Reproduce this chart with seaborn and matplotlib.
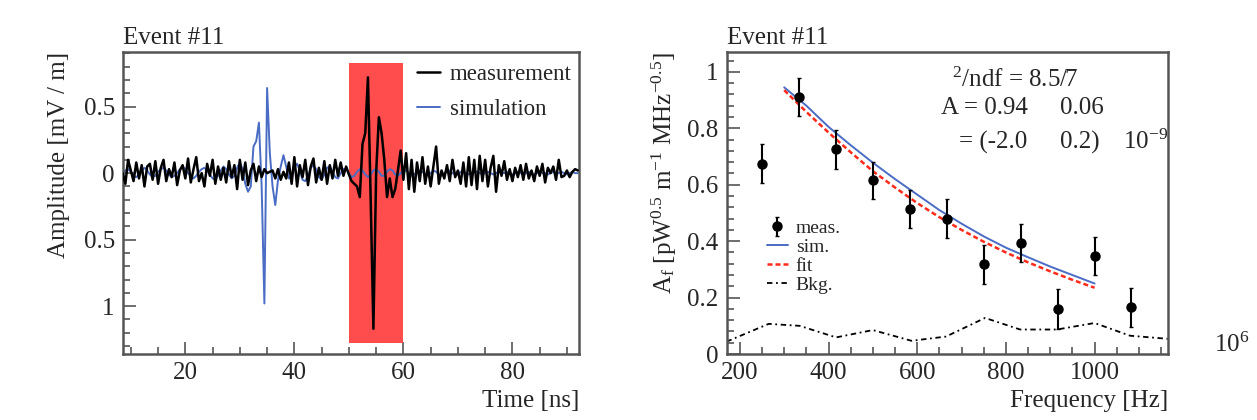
import numpy as np
import pandas as pd
import matplotlib
matplotlib.use('Agg')
import matplotlib.pyplot as plt
from matplotlib.ticker import MultipleLocator
import seaborn as sns

sns.set_style('ticks')
plt.rcParams['font.family'] = ['Liberation Serif', 'DejaVu Serif']
plt.rcParams['mathtext.fontset'] = 'custom'
plt.rcParams['mathtext.rm'] = 'Liberation Serif'
plt.rcParams['mathtext.it'] = 'Liberation Serif:italic'

# ---- left panel: time traces (0.5 ns sampling from 8.5 ns) ----
t_start, t_step = 8.5, 0.5
measurement = [
    0.0, -0.08, 0.1, 0.02, -0.06, 0.08, -0.04, 0.06, -0.1, 0.05,
    0.07, -0.05, 0.09, -0.08, 0.04, 0.1, -0.06, 0.03, -0.03, 0.08,
    -0.09, 0.02, 0.06, -0.04, 0.11, -0.07, 0.03, 0.12, -0.06, 0.0,
    -0.1, 0.07, -0.02, 0.1, -0.08, 0.05, -0.05, 0.04, -0.07, 0.09,
    -0.03, 0.06, -0.12, 0.1, -0.05, 0.08, -0.09, 0.02, 0.07, -0.06,
    0.05, -0.03, 0.03, 0.0, 0.01, 0.02, -0.04, 0.03, -0.05, 0.01,
    -0.04, 0.08, -0.08, 0.12, -0.1, 0.06, -0.03, 0.1, -0.09, 0.05,
    0.11, -0.07, 0.04, -0.05, 0.09, -0.08, 0.06, -0.04, 0.1, -0.02,
    0.08, -0.02, 0.05, -0.01, -0.06, -0.08, -0.1, -0.18, 0.22, 0.3,
    0.72, -0.2, -1.17, 0.0, 0.42, 0.3, 0.1, -0.18, -0.04, -0.18,
    -0.12, 0.02, 0.17, -0.05, 0.15, -0.12, 0.1, -0.14, 0.08, -0.06,
    0.12, -0.08, 0.05, -0.1, 0.05, 0.2, -0.08, 0.02, -0.04, 0.06,
    -0.06, 0.1, -0.03, 0.02, -0.08, 0.08, -0.1, 0.12, -0.09, 0.1,
    -0.12, 0.13, -0.06, 0.1, -0.1, 0.04, 0.13, -0.14, 0.06, -0.02,
    0.09, -0.05, 0.03, -0.06, 0.04, -0.03, 0.06, -0.05, 0.07, -0.04,
    0.02, -0.06, 0.05, -0.02, 0.07, -0.07, 0.04, 0.0, 0.05, -0.05,
    0.1, -0.03, -0.02, 0.02, -0.03, 0.01, 0.03, 0.02,
]
simulation = [
    0.0, 0.02, 0.03, 0.01, -0.02, -0.03, -0.01, 0.02, 0.04, 0.02,
    -0.01, -0.03, -0.02, 0.01, 0.03, 0.04, 0.02, -0.01, -0.03, -0.02,
    0.0, 0.03, 0.05, 0.03, 0.0, -0.02, -0.04, -0.02, 0.01, 0.03,
    0.04, 0.02, -0.01, -0.04, -0.05, -0.02, 0.02, 0.05, 0.03, -0.01,
    -0.04, -0.02, 0.04, 0.08, 0.03, -0.08, -0.14, -0.1, 0.2, 0.24,
    0.38, -0.1, -0.98, 0.64, 0.15, -0.1, -0.24, -0.05, 0.05, 0.135,
    0.05, -0.04, -0.02, 0.05, 0.07, 0.02, -0.05, -0.06, -0.02, 0.04,
    0.06, 0.03, -0.03, -0.05, -0.01, 0.04, 0.05, 0.01, -0.03, -0.04,
    0.0, 0.03, 0.03, 0.0, -0.03, -0.02, 0.01, 0.03, 0.02, -0.01,
    -0.03, -0.01, 0.02, 0.03, 0.01, -0.02, -0.02, 0.01, 0.03, 0.02,
    -0.01, -0.02, 0.0, 0.02, 0.02, 0.0, -0.02, -0.01, 0.01, 0.02,
    0.01, -0.01, -0.02, 0.0, 0.02, 0.01, -0.01, -0.02, 0.0, 0.01,
    0.02, 0.0, -0.01, -0.01, 0.01, 0.01, 0.0, -0.01, 0.0, 0.01,
    0.01, 0.0, -0.01, 0.0, 0.01, 0.0, -0.01, 0.0, 0.01, 0.0,
    0.0, 0.01, 0.0, -0.01, 0.0, 0.01, 0.0, -0.01, 0.0, 0.01,
    0.0, -0.01, 0.0, 0.01, 0.0, 0.0, -0.01, 0.0, 0.01, 0.0,
    0.0, 0.01, 0.0, -0.01, 0.0, 0.01, 0.0, 0.0,
]
time_ns = t_start + t_step * np.arange(len(measurement))
window_ns = (50, 60)
window_amp = (-1.28, 0.83)
left_yticks = [-1, -0.5, 0, 0.5]
left_yticklabels = ['1', '0.5', '0', '0.5']

# ---- right panel: spectrum ----
freq_meas = [250, 333, 417, 500, 583, 667, 750, 833, 917, 1000, 1083]
amp_meas = [0.675, 0.91, 0.725, 0.615, 0.513, 0.48, 0.318, 0.394, 0.16, 0.347, 0.166]
amp_err = [0.068, 0.067, 0.068, 0.067, 0.067, 0.068, 0.068, 0.068, 0.07, 0.068, 0.069]
freq_curve = [300, 350, 400, 450, 500, 550, 600, 650, 700, 750, 800, 850, 900, 950, 1000]
amp_sim = [0.945, 0.88, 0.805, 0.74, 0.678, 0.62, 0.565, 0.51, 0.462, 0.417, 0.377, 0.343, 0.31, 0.28, 0.25]
amp_fit = [0.935, 0.858, 0.785, 0.715, 0.648, 0.59, 0.535, 0.485, 0.44, 0.398, 0.36, 0.325, 0.293, 0.263, 0.235]
freq_bkg = [170, 265, 335, 417, 500, 587, 665, 753, 832, 915, 1000, 1080, 1165]
amp_bkg = [0.044, 0.107, 0.1, 0.059, 0.085, 0.047, 0.062, 0.128, 0.087, 0.087, 0.11, 0.065, 0.054]

blue = '#4a6cc4'
red_fit = '#ff2a1a'
red_box = '#ff4c4c'
fs = 18

fig = plt.figure(figsize=(12.57, 4.2), dpi=100)
ax1 = fig.add_axes([0.098, 0.157, 0.363, 0.719])
ax2 = fig.add_axes([0.578, 0.157, 0.351, 0.719])

# left
trace = pd.DataFrame({'t': time_ns, 'meas': measurement, 'sim': simulation})
ax1.fill_between(window_ns, window_amp[0], window_amp[1], color=red_box, lw=0, zorder=1)
sns.lineplot(data=trace, x='t', y='meas', ax=ax1, color='black', lw=1.8,
             estimator=None, sort=False, label='measurement', zorder=3)
sns.lineplot(data=trace, x='t', y='sim', ax=ax1, color=blue, lw=1.4,
             estimator=None, sort=False, label='simulation', zorder=2)
ax1.set_xlim(8.6, 92.3)
ax1.set_ylim(-1.36, 0.91)
ax1.set_yticks(left_yticks)
ax1.set_yticklabels(left_yticklabels)
ax1.xaxis.set_major_locator(MultipleLocator(20))
ax1.xaxis.set_minor_locator(MultipleLocator(5))
ax1.yaxis.set_minor_locator(MultipleLocator(0.1))
ax1.set_xlabel('Time [ns]', loc='right', fontsize=fs, labelpad=4)
ax1.set_ylabel('Amplitude [mV / m]', loc='top', fontsize=fs, labelpad=10)
ax1.set_title('Event #11', loc='left', fontsize=fs, pad=6)
ax1.legend(loc='upper left', bbox_to_anchor=(0.645, 0.96), frameon=False,
           fontsize=16.5, handlelength=1.0, handletextpad=0.4, labelspacing=0.62,
           borderpad=0, borderaxespad=0)

# right
ax2.errorbar(freq_meas, amp_meas, yerr=amp_err, fmt='o', color='black', ms=6.5,
             elinewidth=1.5, capsize=1.5, label='meas.', zorder=4)
sns.lineplot(x=freq_curve, y=amp_sim, ax=ax2, color=blue, lw=1.4, label='sim.', zorder=3)
sns.lineplot(x=freq_curve, y=amp_fit, ax=ax2, color=red_fit, lw=1.8,
             linestyle=(0, (2, 1.2)), label='fit', zorder=3)
sns.lineplot(x=freq_bkg, y=amp_bkg, ax=ax2, color='black', lw=1.3,
             linestyle=(0, (3, 2, 1, 2)), label='Bkg.', zorder=2)
ax2.set_xlim(170, 1165)
ax2.set_ylim(0, 1.07)
ax2.xaxis.set_major_locator(MultipleLocator(200))
ax2.xaxis.set_minor_locator(MultipleLocator(50))
ax2.yaxis.set_minor_locator(MultipleLocator(0.04))
ax2.set_yticks([0, 0.2, 0.4, 0.6, 0.8, 1.0])
ax2.set_yticklabels(['0', '0.2', '0.4', '0.6', '0.8', '1'])
ax2.set_xlabel('Frequency [Hz]', loc='right', fontsize=fs, labelpad=4)
ax2.set_ylabel(r'A$_{\mathrm{f}}$ [pW$^{0.5}$ m$^{-1}$ MHz$^{-0.5}$]', loc='top',
               fontsize=fs, labelpad=6)
ax2.set_title('Event #11', loc='left', fontsize=fs, pad=6)
handles, labels = ax2.get_legend_handles_labels()
order = [labels.index(name) for name in ['meas.', 'sim.', 'fit', 'Bkg.']]
ax2.legend([handles[i] for i in order], [labels[i] for i in order],
           loc='upper left', bbox_to_anchor=(0.091, 0.445), frameon=False,
           fontsize=14, handlelength=1.1, handletextpad=0.4, labelspacing=0.07,
           borderpad=0, borderaxespad=0)
ax2.text(0.512, 0.907, r'$^{2}$/ndf = 8.5/7', transform=ax2.transAxes, fontsize=fs, va='center')
ax2.text(0.485, 0.815, 'A = 0.94', transform=ax2.transAxes, fontsize=fs, va='center')
ax2.text(0.755, 0.815, '0.06', transform=ax2.transAxes, fontsize=fs, va='center')
ax2.text(0.526, 0.702, '= (-2.0', transform=ax2.transAxes, fontsize=fs, va='center')
ax2.text(0.755, 0.702, '0.2)', transform=ax2.transAxes, fontsize=fs, va='center')
ax2.text(0.898, 0.702, r'10$^{-9}$', transform=ax2.transAxes, fontsize=fs, va='center')
ax2.text(1.104, 0.03, r'10$^{6}$', transform=ax2.transAxes, fontsize=fs, va='center')

for ax in (ax1, ax2):
    for sp in ax.spines.values():
        sp.set_visible(True)
        sp.set_color('#555555')
        sp.set_linewidth(1.8)
    ax.tick_params(which='both', direction='in', top=False, right=False,
                   labelsize=fs, color='#555555', width=1.2)
    ax.tick_params(which='major', length=9, pad=6)
    ax.tick_params(which='minor', length=5)

fig.savefig('out.png', dpi=100)
